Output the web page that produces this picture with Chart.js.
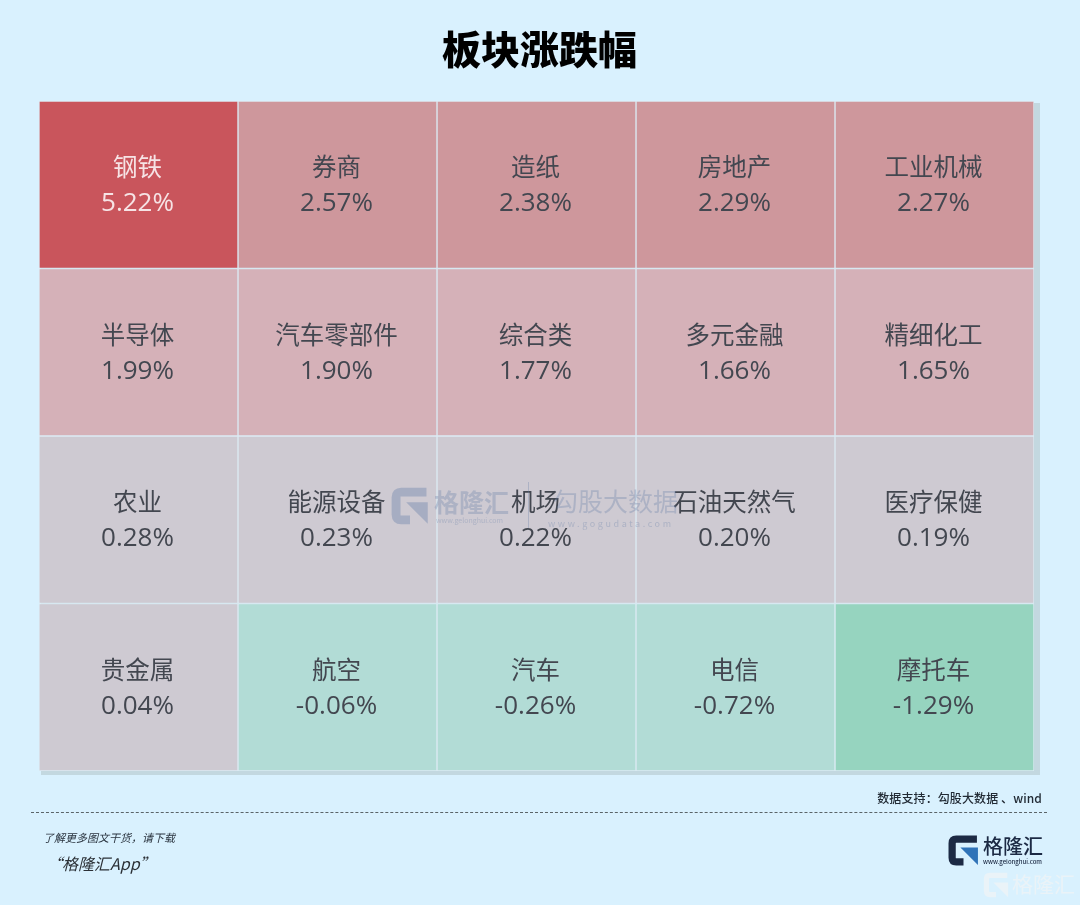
<!DOCTYPE html>
<html lang="zh">
<head>
<meta charset="utf-8">
<title>板块涨跌幅</title>
<script src="https://cdn.jsdelivr.net/npm/chart.js@4"></script>
<style>
    html, body { margin: 0; padding: 0; }
    body {
        position: relative; width: 1080px; height: 905px; overflow: hidden;
        background: #d9f1fe; font-family: "Noto Sans CJK SC", sans-serif;
    }
    canvas { position: absolute; left: 0; top: 0; }
    .txt { position: absolute; white-space: nowrap; line-height: 1; }
    #title { left: 0; width: 1079px; top: 28px; text-align: center; font-size: 39px; font-weight: 900; color: #000; }
    #rule { position: absolute; left: 31px; top: 812px; width: 1016px; border-top: 1px dashed #5a6468; }
    #source { right: 38px; top: 792px; font-size: 12px; font-weight: 500; letter-spacing: .1px; color: #222b35; }
    #more { left: 43px; top: 832px; font-size: 11px; font-style: italic; color: #2b3540; }
    #app { left: 46px; top: 855px; font-size: 16px; font-style: italic; color: #2b3036; }
    .logo { position: absolute; }
    .brand { color: #1c2a44; font-weight: 500; }
    .wm { color: rgba(96, 122, 165, .3); }
</style>
</head>
<body>
<canvas id="heatmap" width="1080" height="905"></canvas>
<div id="title" class="txt">板块涨跌幅</div>

<!-- watermark -->
<svg class="logo" style="left:391px;top:487px" width="38" height="38" viewBox="0 0 30 30">
    <path d="M28 4H8Q4 4 4 8V22Q4 26 8 26H15" fill="none" stroke="rgba(96,122,165,.36)" stroke-width="7"/>
    <path d="M12 12H29V29Z" fill="rgba(96,122,165,.36)"/>
</svg>
<div class="txt wm" style="left:434px;top:489px;font-size:25px;font-weight:700">格隆汇</div>
<div class="txt wm" style="left:436px;top:517px;font-size:7px">www.gelonghui.com</div>
<div style="position:absolute;left:528px;top:482px;width:1px;height:46px;background:rgba(96,122,165,.3)"></div>
<div class="txt wm" style="left:553px;top:488px;font-size:25px">勾股大数据</div>
<div class="txt wm" style="left:548px;top:519px;font-size:9px;letter-spacing:2.6px">www.gogudata.com</div>

<div id="rule"></div>
<div id="source" class="txt">数据支持：勾股大数据 、wind</div>
<div id="more" class="txt">了解更多图文干货，请下载</div>
<div id="app" class="txt">“格隆汇App”</div>

<!-- brand logos -->
<svg class="logo" style="left:948px;top:835px" width="31" height="31" viewBox="0 0 30 30">
    <path d="M28 4H8Q4 4 4 8V22Q4 26 8 26H15" fill="none" stroke="#1c2a44" stroke-width="7"/>
    <path d="M12 12H29V29Z" fill="#2f73b8"/>
</svg>
<div class="txt brand" style="left:983px;top:836px;font-size:20px">格隆汇</div>
<div class="txt brand" style="left:983px;top:859px;font-size:6px">www.gelonghui.com</div>
<svg class="logo" style="left:983px;top:872px" width="26" height="26" viewBox="0 0 30 30">
    <path d="M28 4H8Q4 4 4 8V22Q4 26 8 26H15" fill="none" stroke="#eaf3f8" stroke-width="6"/>
    <path d="M12 12H29V29Z" fill="#eaf3f8"/>
</svg>
<div class="txt" style="left:1012px;top:873px;font-size:21px;color:#eaf3f8">格隆汇</div>

<script>
"use strict";

const sectors = [
    '钢铁', '券商', '造纸', '房地产', '工业机械',
    '半导体', '汽车零部件', '综合类', '多元金融', '精细化工',
    '农业', '能源设备', '机场', '石油天然气', '医疗保健',
    '贵金属', '航空', '汽车', '电信', '摩托车'
];
const changes = [
    5.22, 2.57, 2.38, 2.29, 2.27,
    1.99, 1.90, 1.77, 1.66, 1.65,
    0.28, 0.23, 0.22, 0.20, 0.19,
    0.04, -0.06, -0.26, -0.72, -1.29
];
const rows = ['r1', 'r2', 'r3', 'r4'];
const columns = 5;

// Colour band of a cell, by its change
function cellColor(v) {
    if (v >= 5) return '#c9555c';
    if (v >= 2) return '#ce979c';
    if (v >= 1) return '#d5b1b8';
    if (v >= 0) return '#cecad2';
    if (v >= -1) return '#b2dcd6';
    return '#96d4bf';
}

function fmt(v) {
    return v.toFixed(2) + '%';
}

// One stacked dataset per column, every cell one unit wide
const datasets = [];
for (let c = 0; c < columns; c++) {
    datasets.push({
        data: rows.map(() => 1),
        backgroundColor: rows.map((r, i) => cellColor(changes[i * columns + c])),
        borderColor: '#dcebf4',
        borderWidth: 1,
        borderSkipped: false,
        barPercentage: 1,
        categoryPercentage: 1
    });
}

// Soft edge behind the table
const tableShadow = {
    id: 'tableShadow',
    beforeDatasetsDraw(chart) {
        const a = chart.chartArea, ctx = chart.ctx;
        ctx.save();
        ctx.fillStyle = '#c3d8e0';
        ctx.fillRect(a.left + 2, a.top + 2, a.width + 4, a.height + 2);
        ctx.restore();
    }
};

// Name and change in the middle of each cell
const cellLabels = {
    id: 'cellLabels',
    afterDatasetsDraw(chart) {
        const ctx = chart.ctx;
        ctx.save();
        ctx.textAlign = 'center';
        ctx.textBaseline = 'middle';
        chart.data.datasets.forEach((ds, c) => {
            chart.getDatasetMeta(c).data.forEach((bar, r) => {
                const i = r * columns + c;
                const cx = bar.x - (bar.x - bar.base) / 2 - 1;
                ctx.fillStyle = changes[i] >= 5 ? '#f6e3e5' : '#434750';
                ctx.font = '24.5px "Noto Sans CJK SC"';
                ctx.fillText(sectors[i], cx, bar.y - 18);
                ctx.font = '26px "Open Sans"';
                ctx.fillText(fmt(changes[i]), cx, bar.y + 19);
            });
        });
        ctx.restore();
    }
};

new Chart(document.getElementById('heatmap'), {
    type: 'bar',
    data: { labels: rows, datasets: datasets },
    plugins: [tableShadow, cellLabels],
    options: {
        indexAxis: 'y',
        responsive: false,
        animation: false,
        layout: { padding: { left: 39, right: 46, top: 101, bottom: 134 } },
        plugins: { legend: { display: false }, tooltip: { enabled: false } },
        scales: {
            x: { display: false, stacked: true, min: 0, max: columns },
            y: { display: false, stacked: true }
        }
    }
});
</script>
</body>
</html>
